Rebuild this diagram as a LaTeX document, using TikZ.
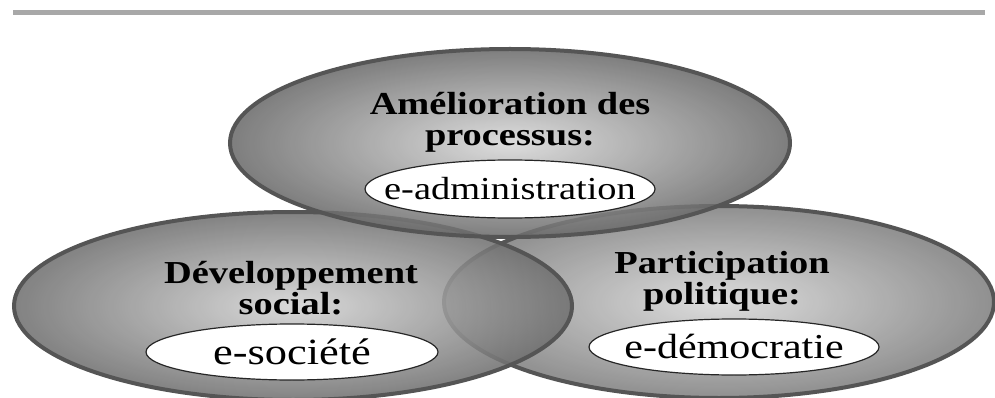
\documentclass[tikz,border=0pt]{standalone}
\usepackage{fontspec}
\setmainfont{Liberation Serif}[FakeStretch=1.2]
\usetikzlibrary{shapes.geometric}
\definecolor{rimgray}{HTML}{555555}
\definecolor{bargray}{HTML}{A8A8A8}
\begin{document}
\begin{tikzpicture}[x=1pt,y=-1pt,
  blob/.style={ellipse, inner sep=0pt, draw=rimgray, line width=4pt, fill opacity=0.87, draw opacity=1},
  bubble/.style={ellipse, draw=black!85, line width=1.2pt, fill=white, inner sep=0pt},
  head/.style={font=\fontsize{32}{31}\selectfont\bfseries, align=center, text=black},
  sub/.style={font=\fontsize{#1}{#1}\selectfont, text=black}]
\useasboundingbox (0,0) rectangle (995,398);
\fill[white] (0,0) rectangle (995,398);
\coordinate (barL) at (13,13);
\coordinate (barR) at (985,13);
\draw[line width=5pt, bargray] (barL) -- (barR);
% ellipses
\node[blob, minimum width=550pt, minimum height=192pt, shade, inner color=black!15, outer color=black!50] (rightE) at (719,302) {};
\node[blob, minimum width=558pt, minimum height=188pt, shade, inner color=black!17, outer color=black!56] (leftE) at (293,306) {};
\node[blob, minimum width=560pt, minimum height=188pt, shade, inner color=black!15, outer color=black!58] (topE) at (510,143) {};
% headings
\node[head] (topH) at (510,122) {Amélioration des\\processus:};
\node[head] (leftH) at (291,288) {Développement\\social:};
\node[head] (rightH) at (722,281) {Participation\\politique:};
% bubbles
\node[bubble, minimum width=290pt, minimum height=58pt] (topB) at (510,189) {};
\node[sub=32] (topT) at (topB) {e-administration};
\node[bubble, minimum width=292pt, minimum height=56pt] (leftB) at (292,352) {};
\node[sub=37] (leftT) at (leftB) {e-société};
\node[bubble, minimum width=290pt, minimum height=56pt] (rightB) at (734,347) {};
\node[sub=35] (rightT) at (rightB) {e-démocratie};
\end{tikzpicture}
\end{document}
